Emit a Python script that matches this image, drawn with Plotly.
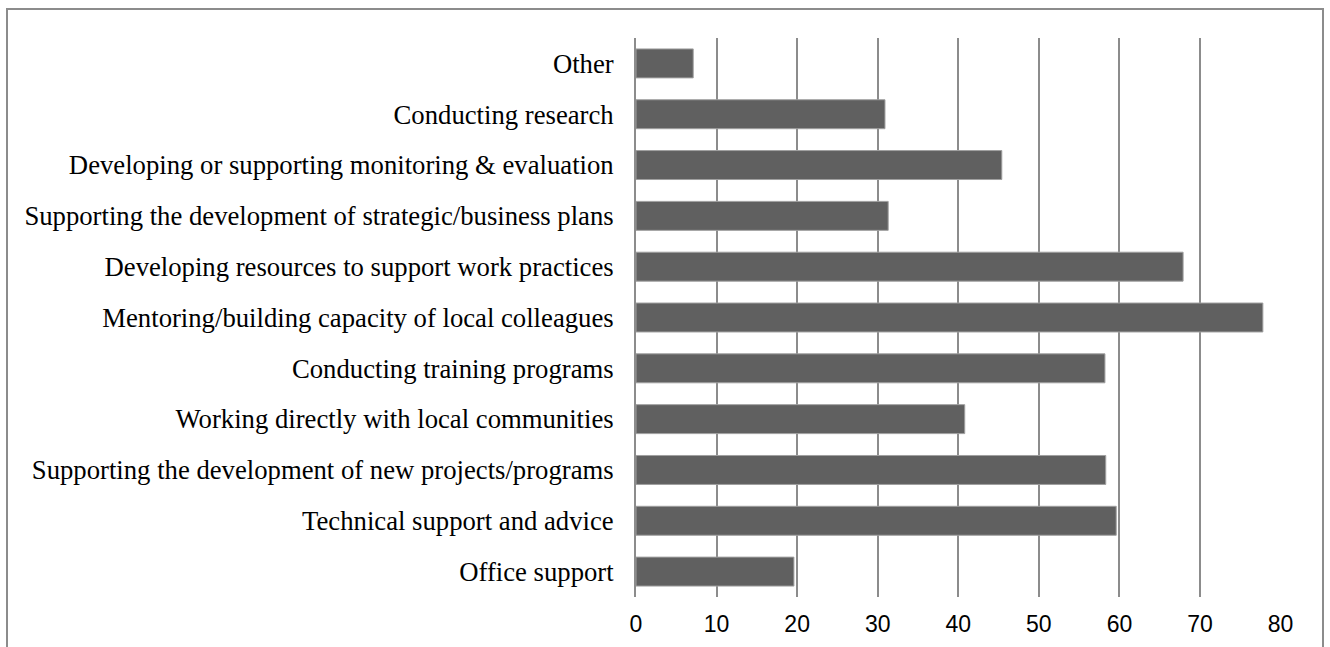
import plotly.graph_objects as go

categories = [
    "Other",
    "Conducting research",
    "Developing or supporting monitoring & evaluation",
    "Supporting the development of strategic/business plans",
    "Developing resources to support work practices",
    "Mentoring/building capacity of local colleagues",
    "Conducting training programs",
    "Working directly with local communities",
    "Supporting the development of new projects/programs",
    "Technical support and advice",
    "Office support",
]
values = [7.1, 30.9, 45.4, 31.3, 67.9, 77.8, 58.2, 40.8, 58.3, 59.6, 19.6]
x_ticks = [0, 10, 20, 30, 40, 50, 60, 70, 80]

W, H = 1330, 647
ml, mr, mt, mb = 636, 49, 38, 50
pw, ph = W - ml - mr, H - mt - mb

fig = go.Figure(
    go.Bar(
        x=values,
        y=categories,
        orientation="h",
        marker=dict(color="#606060", line=dict(color="#a0a0a0", width=1)),
        width=0.57,
    )
)

def px_x(p):
    return (p - ml) / pw

def px_y(p):
    return (H - mb - p) / ph

fig.add_shape(
    type="rect", xref="paper", yref="paper",
    x0=px_x(7), x1=px_x(1323), y0=px_y(9), y1=px_y(700),
    line=dict(color="#8c8c8c", width=2), fillcolor="rgba(0,0,0,0)", layer="above",
)

fig.update_layout(
    width=W, height=H,
    margin=dict(l=ml, r=mr, t=mt, b=mb, pad=0, autoexpand=False),
    paper_bgcolor="white", plot_bgcolor="white",
    showlegend=False,
    bargap=0.43,
    xaxis=dict(
        range=[0, 80.05],
        tickvals=x_ticks,
        ticktext=[str(v) for v in x_ticks],
        showgrid=True, gridcolor="#8c8c8c", gridwidth=2,
        zeroline=False, showline=False, automargin=False,
        ticks="", ticklabelstandoff=11,
        tickfont=dict(family="Liberation Sans Narrow, Liberation Sans, Arial", size=23, color="#000"),
    ),
    yaxis=dict(
        autorange="reversed", automargin=False,
        showgrid=False, zeroline=False,
        showline=True, linecolor="#8c8c8c", linewidth=2,
        ticks="", ticklabelstandoff=15,
        tickfont=dict(family="Liberation Serif, Times New Roman, serif", size=26.7, color="#000"),
    ),
)

fig.write_html("out.html")
